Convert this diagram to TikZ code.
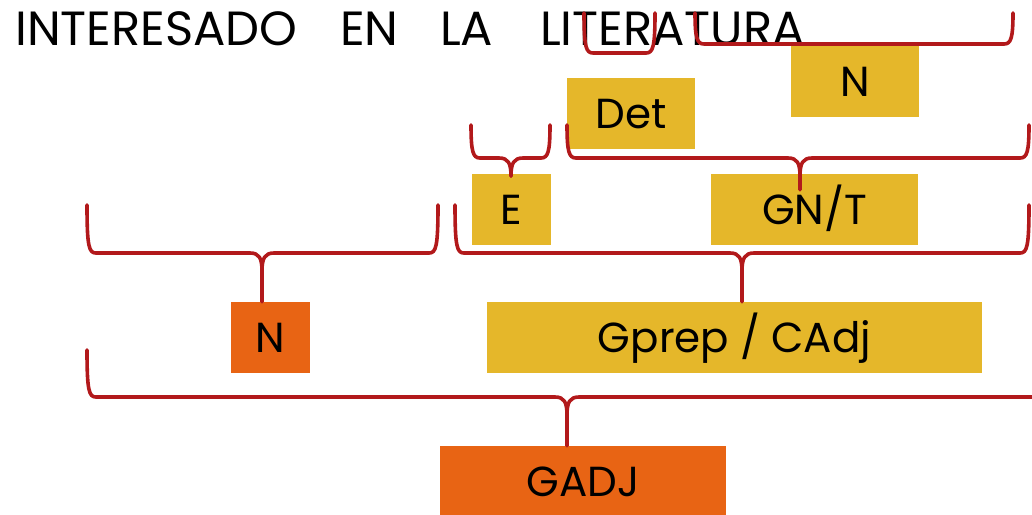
\documentclass[tikz,border=0pt]{standalone}
\usepackage{fontspec}
\setmainfont{Poppins}
\usetikzlibrary{calc}
\definecolor{gold}{HTML}{E5B72A}
\definecolor{orng}{HTML}{E86414}
\definecolor{brred}{HTML}{B2191B}
\tikzset{
  word/.style={anchor=base west,inner sep=0pt,font=\fontsize{48}{50}\selectfont},
  box/.style={rectangle,inner sep=0pt,text height=30pt,text depth=0pt,minimum height=71pt,
    font=\fontsize{42}{44}\selectfont,text=black},
  goldbox/.style={box,fill=gold},
  orbox/.style={box,fill=orng},
  brc/.style={draw=brred,line width=3.6pt,line cap=round,line join=round}
}
% brace: xl xr ytop ybottom xmid node extra
\newcommand\mybrace[7]{%
  \draw[brc] (#1,#3) .. controls (#1,#4-6) and (#1+2,#4) .. (#1+9,#4) -- (#5-12,#4)
     .. controls (#5-3,#4) and (#5,#4+5) .. (#5,#4+18) -- ($(#5,#4 |- #6.north)+(0,#7)$);
  \draw[brc] (#2,#3) .. controls (#2,#4-6) and (#2-2,#4) .. (#2-9,#4) -- (#5+12,#4)
     .. controls (#5+3,#4) and (#5,#4+5) .. (#5,#4+18);
}
\newcommand\myubracket[4]{%
  \draw[brc] (#1,#3) .. controls (#1,#4-6) and (#1+2,#4) .. (#1+9,#4) -- (#2-9,#4)
     .. controls (#2-2,#4) and (#2,#4-6) .. (#2,#3);
}
\begin{document}
\begin{tikzpicture}[x=1pt,y=-1pt]
\useasboundingbox (0,0) rectangle (1032,514);
% words
\node[word] (w1) at (15,45) {INTERESADO};
\node[word] (w2) at (340,45) {EN};
\node[word] (w3) at (440,45) {LA};
\node[word] (w4) at (540,45) {LITERATURA};
% boxes
\node[goldbox,minimum width=128pt] (ntop) at (855,81.5) {N};
\node[goldbox,minimum width=128pt] (det) at (631,113.5) {Det};
\node[goldbox,minimum width=79pt] (e) at (511.5,209.5) {E};
\node[goldbox,minimum width=207pt] (gnt) at (814.5,209.5) {GN/T};
\node[orbox,minimum width=79pt] (n) at (270.5,337.5) {N};
\node[goldbox,minimum width=495pt] (gprep) at (734.5,337.5) {Gprep / CAdj};
\node[orbox,minimum width=286pt] (gadj) at (583,481.5) {GADJ};
% brackets and braces
\myubracket{584}{655}{13}{53}
\myubracket{695}{1013}{13}{44}
\mybrace{471}{550}{125}{158}{511}{e}{0}
\mybrace{567}{1029}{125}{158}{800}{gnt}{16}
\mybrace{87}{438}{205}{253}{262}{n}{0}
\mybrace{455}{1029}{205}{253}{742}{gprep}{0}
\mybrace{87}{1060}{350}{397}{567}{gadj}{0}
\end{tikzpicture}
\end{document}
